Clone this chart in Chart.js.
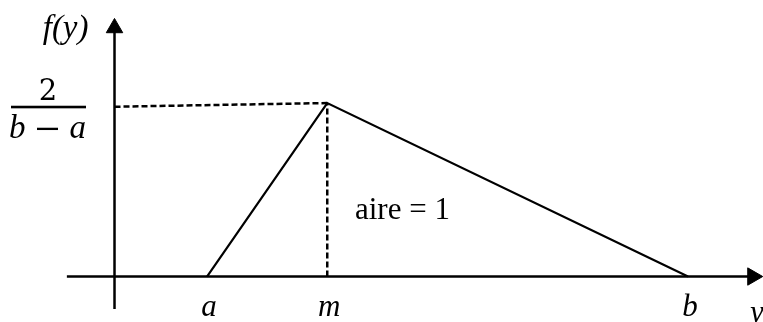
<!DOCTYPE html>
<html>
<head>
<meta charset="utf-8">
<script src="https://cdn.jsdelivr.net/npm/chart.js@4"></script>
<style>
  html, body { margin: 0; padding: 0; background: #fff; }
  #wrap { width: 763px; height: 322px; }
</style>
</head>
<body>
<div id="wrap"><canvas id="chart" width="763" height="322"></canvas></div>
<script>
// triangular density: f(y) rises from a to the mode m, then falls to b
const a = 2;
const m = 4.6;
const b = 12.4;
const peak = 2 / (b - a);

// x values where the labels go, and their text
const tickValues = [a, m, b];
const tickLabels = ['a', 'm', 'b'];

// the triangle's corners
const triangleX = [a, m, b];
const triangleY = [0, peak, 0];

// the dashed guide starts a touch lower on the y axis, as drawn in the picture
const guideLeftY = 0.1882;

// extents of the two axes (arrow ends included)
const xAxisFrom = -1.03, xAxisTo = 13.8;
const yAxisFrom = -0.036, yAxisTo = 0.2755;

const ink = '#000';
const serif = '"Liberation Serif", "Times New Roman", serif';

const labelPlugin = {
    id: 'labels',
    afterDatasetsDraw(chart) {
        const ctx = chart.ctx;
        const xs = chart.scales.x;
        const ys = chart.scales.y;
        const y0 = ys.getPixelForValue(0);

        ctx.save();
        ctx.fillStyle = ink;
        ctx.textBaseline = 'alphabetic';

        // a, m, b under the axis
        ctx.font = 'italic 31px ' + serif;
        ctx.textAlign = 'center';
        tickValues.forEach((v, i) => {
            ctx.fillText(tickLabels[i], xs.getPixelForValue(v) + 2, y0 + 39);
        });

        // variable name at the end of the x axis (cut by the edge)
        ctx.textAlign = 'left';
        ctx.fillText('y', 750, y0 + 45);

        // f(y) beside the arrow of the y axis
        ctx.font = 'italic 33px ' + serif;
        ctx.textAlign = 'right';
        ctx.fillText('f(y)', xs.getPixelForValue(0) - 26, 38);

        // 2/(b-a) level label
        const lvl = ys.getPixelForValue(guideLeftY);
        ctx.font = '29px "DejaVu Serif", serif';
        ctx.textAlign = 'center';
        ctx.fillText('2', 48, lvl - 7);
        ctx.fillRect(11, lvl - 1, 75, 2.6);
        ctx.font = 'italic 33px ' + serif;
        ctx.textAlign = 'left';
        ctx.fillText('b', 9, lvl + 31);
        ctx.textAlign = 'right';
        ctx.fillText('a', 86, lvl + 31);
        ctx.fillRect(37, lvl + 21, 21, 2.3);

        // area note inside the triangle
        ctx.font = '31px ' + serif;
        ctx.textAlign = 'left';
        ctx.fillText('aire = 1', xs.getPixelForValue(5.2), ys.getPixelForValue(0.0637));
        ctx.restore();
    }
};

const lineBase = {
    showLine: true,
    borderColor: ink,
    backgroundColor: ink,
    borderWidth: 2.2,
    pointRadius: 0,
    tension: 0,
    clip: false
};

new Chart(document.getElementById('chart'), {
    type: 'scatter',
    data: {
        datasets: [
            Object.assign({}, lineBase, {
                label: 'density',
                data: triangleX.map((x, i) => ({ x: x, y: triangleY[i] }))
            }),
            Object.assign({}, lineBase, {
                label: 'level',
                borderWidth: 2.5,
                borderDash: [6, 3],
                data: [{ x: 0, y: guideLeftY }, { x: m, y: peak }]
            }),
            Object.assign({}, lineBase, {
                label: 'mode',
                borderWidth: 2.5,
                borderDash: [6, 3],
                data: [{ x: m, y: 0 }, { x: m, y: peak }]
            }),
            Object.assign({}, lineBase, {
                label: 'x axis',
                borderWidth: 2.5,
                pointStyle: 'triangle',
                pointRadius: [0, 10],
                pointRotation: [0, 90],
                pointBorderWidth: 1,
                pointBorderColor: ink,
                data: [{ x: xAxisFrom, y: 0 }, { x: xAxisTo, y: 0 }]
            }),
            Object.assign({}, lineBase, {
                label: 'y axis',
                borderWidth: 2.5,
                pointStyle: 'triangle',
                pointRadius: [0, 9.5],
                pointBorderWidth: 1,
                pointBorderColor: ink,
                data: [{ x: 0, y: yAxisFrom }, { x: 0, y: yAxisTo }]
            })
        ]
    },
    options: {
        responsive: false,
        animation: false,
        devicePixelRatio: 1,
        layout: { padding: 0, autoPadding: false },
        events: [],
        plugins: {
            legend: { display: false },
            tooltip: { enabled: false }
        },
        scales: {
            x: { type: 'linear', display: false, min: -2.476, max: 14.022 },
            y: { type: 'linear', display: false, min: -0.0504, max: 0.3065 }
        }
    },
    plugins: [labelPlugin]
});
</script>
</body>
</html>
